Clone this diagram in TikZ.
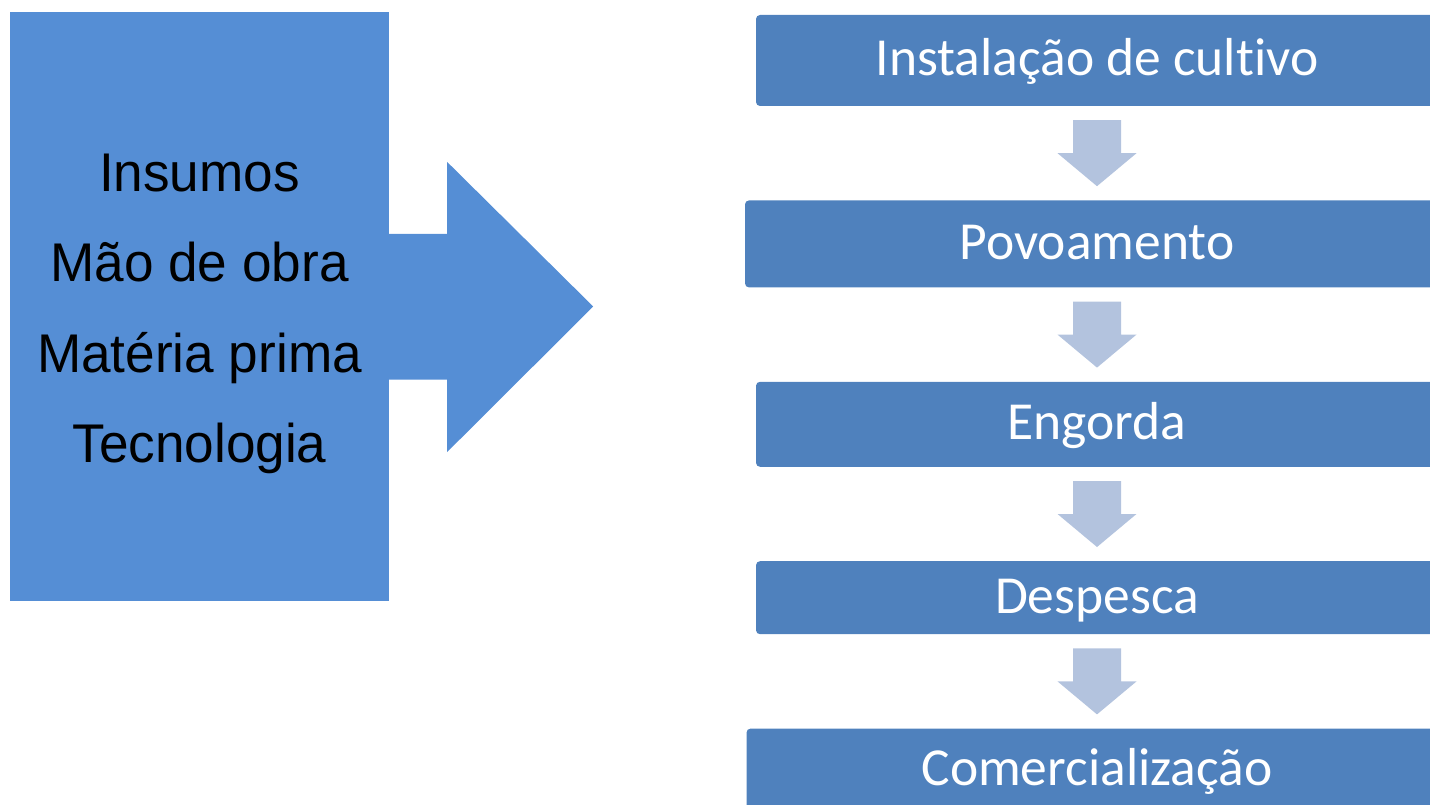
\documentclass[tikz,border=0pt]{standalone}
\usepackage{fontspec}
\usepackage{tikz}
\usetikzlibrary{calc,positioning}
\newfontfamily\stagefont[Ligatures=NoCommon]{Carlito}
\newfontfamily\inputfont[FakeStretch=0.975]{Liberation Sans}
\definecolor{stageblue}{HTML}{4F81BD}
\definecolor{flowgray}{HTML}{B3C3DE}
\definecolor{inputblue}{HTML}{558ED5}
\tikzset{
	stage/.style={fill=stageblue, rounded corners=4pt, inner sep=0pt, text=white, font=\stagefont\fontsize{53.5}{60}\selectfont, text height=33.8pt, text depth=3pt},
	inputtext/.style={inner sep=0pt, align=center, font=\inputfont\fontsize{54.5}{90.5}\selectfont}
}
\def\stagearrow(#1)(#2){\fill[flowgray] ($(#1.south)+(-24,14)$) -- ($(#1.south)!0.5!(#2.north)+(-24,0)$) -- ($(#1.south)!0.5!(#2.north)+(-39.5,0)$) -- ($(#2.north)+(0,-14)$) -- ($(#1.south)!0.5!(#2.north)+(39.5,0)$) -- ($(#1.south)!0.5!(#2.north)+(24,0)$) -- ($(#1.south)+(24,14)$) -- cycle;}

\begin{document}
\begin{tikzpicture}[x=1pt, y=-1pt]
			%%%%% START %%%%%
			
			\useasboundingbox (0, 0) rectangle (1430, 805);
			\clip (0, 0) rectangle (1430, 805);
			
			\node[fill=inputblue, minimum width=379pt, minimum height=589pt, inner sep=0pt] (inputs) at (199.5, 306.5) {};
			\fill[inputblue] ($(inputs.east)+(-1, -72.5)$) -- ($(inputs.east)+(58, -72.5)$) -- ($(inputs.east)+(58, -144.5)$) -- ($(inputs.east)+(204, 0)$) -- ($(inputs.east)+(58, 145.5)$) -- ($(inputs.east)+(58, 73)$) -- ($(inputs.east)+(-1, 73)$) -- cycle;
			\node[inputtext, yshift=-7.2pt] (inputlist) at (inputs.center) {Insumos\\Mão de obra\\Matéria prima\\Tecnologia};
			
			\node[stage, minimum width=682pt, minimum height=91pt] (b1) at (1097, 60.5) {Instalação de cultivo};
			\node[stage, minimum width=704pt, minimum height=87pt, below=94pt of b1] (b2) {Povoamento};
			\node[stage, minimum width=682pt, minimum height=85pt, below=94pt of b2] (b3) {Engorda};
			\node[stage, minimum width=682pt, minimum height=73pt, below=94pt of b3] (b4) {Despesca};
			\node[stage, minimum width=701pt, minimum height=82pt, below=94pt of b4] (b5) {Comercialização};
			
			\stagearrow(b1)(b2)
			\stagearrow(b2)(b3)
			\stagearrow(b3)(b4)
			\stagearrow(b4)(b5)
			
			%%%%% END %%%%%
\end{tikzpicture}
\end{document}
